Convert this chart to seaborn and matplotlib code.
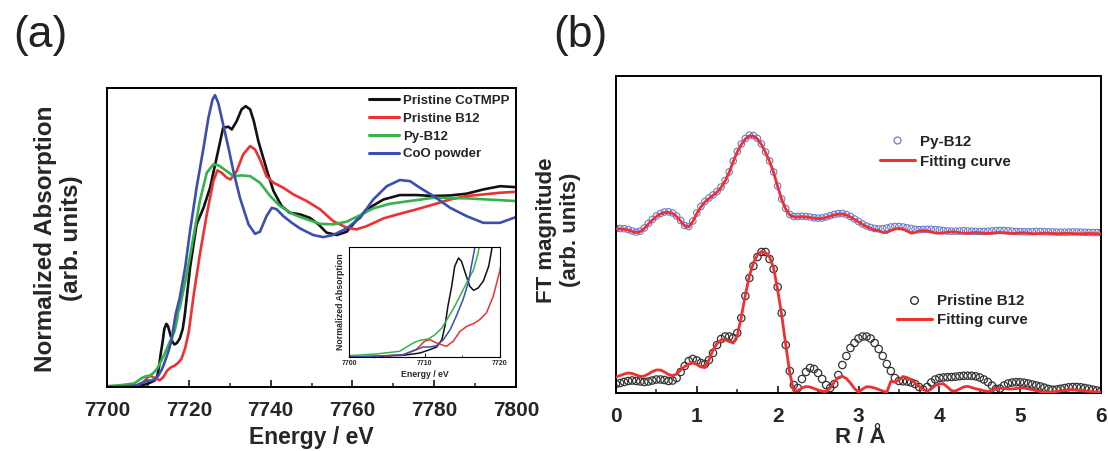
import numpy as np
import pandas as pd
import matplotlib
matplotlib.use("Agg")
import matplotlib.pyplot as plt
from matplotlib.lines import Line2D
from matplotlib.ticker import MultipleLocator
import seaborn as sns

# ---------------- Panel (a): XANES data ----------------
e_cotmpp = [7700, 7703.6, 7707.2, 7709.4, 7710.7, 7711.6, 7712.3, 7712.7, 7713.1, 7713.6,
            7714.0, 7714.5, 7714.9, 7715.4, 7716.0, 7716.5, 7717.1, 7717.8, 7718.5, 7718.9,
            7719.1, 7720.3, 7721.9, 7723.6, 7725.2, 7726.8, 7728.4, 7729.7, 7730.5, 7731.7,
            7732.9, 7733.9, 7735.0, 7735.9, 7737.0, 7738.2, 7739.4, 7740.7, 7742.7, 7744.7,
            7747.2, 7749.6, 7751.7, 7753.7, 7756.2, 7758.6, 7761.0, 7763.5, 7767.6, 7771.6,
            7775.7, 7779.8, 7783.9, 7787.9, 7792.0, 7796.1, 7800]
mu_cotmpp = [0, 0.0022, 0.0055, 0.0132, 0.0243, 0.0331, 0.0574, 0.1015, 0.1677, 0.2338,
             0.300, 0.3276, 0.3165, 0.2779, 0.2338, 0.2206, 0.2283, 0.2515, 0.300, 0.3552,
             0.388, 0.618, 0.843, 0.929, 1.033, 1.188, 1.344, 1.349, 1.335, 1.378,
             1.439, 1.456, 1.439, 1.378, 1.275, 1.188, 1.102, 1.016, 0.938, 0.903,
             0.895, 0.877, 0.843, 0.800, 0.788, 0.805, 0.864, 0.921, 0.972, 0.995,
             0.995, 0.990, 0.993, 1.002, 1.024, 1.041, 1.036]

e_b12 = [7700, 7703.6, 7707.2, 7708.9, 7710.0, 7710.7, 7711.6, 7712.9, 7713.8, 7714.7,
         7715.6, 7716.5, 7717.3, 7718.2, 7719.1, 7720.0, 7721.1, 7722.7, 7724.4, 7726.0,
         7727.0, 7728.0, 7729.3, 7730.2, 7731.7, 7733.3, 7735.0, 7736.2, 7737.4, 7739.0,
         7740.7, 7743.1, 7745.6, 7748.8, 7752.1, 7755.3, 7758.6, 7761.0, 7763.5, 7767.6,
         7771.6, 7775.7, 7779.8, 7783.9, 7787.9, 7792.0, 7796.1, 7800]
mu_b12 = [0, 0.0022, 0.0077, 0.0243, 0.0519, 0.0574, 0.0463, 0.0353, 0.0519, 0.0849,
          0.1015, 0.1103, 0.1235, 0.1456, 0.2007, 0.287, 0.463, 0.687, 0.895, 1.067,
          1.123, 1.111, 1.085, 1.076, 1.119, 1.206, 1.249, 1.231, 1.180, 1.093,
          1.059, 1.033, 0.998, 0.964, 0.921, 0.860, 0.826, 0.817, 0.834, 0.874,
          0.898, 0.921, 0.946, 0.972, 0.990, 0.998, 1.007, 1.012]

e_pyb12 = [7700, 7703.6, 7706.7, 7708.5, 7709.4, 7710.5, 7711.4, 7712.3, 7713.1, 7714.0,
           7714.9, 7715.8, 7716.5, 7717.1, 7717.4, 7717.8, 7719.5, 7721.1, 7722.7, 7724.4,
           7726.0, 7727.2, 7729.3, 7730.9, 7732.9, 7735.0, 7737.4, 7739.9, 7742.3, 7745.6,
           7748.8, 7752.1, 7755.3, 7758.6, 7761.9, 7765.1, 7769.2, 7775.7, 7779.8, 7787.9,
           7800]
mu_pyb12 = [0.0044, 0.0099, 0.0188, 0.0463, 0.0552, 0.0596, 0.0739, 0.096, 0.129, 0.1677,
            0.2118, 0.2559, 0.289, 0.344, 0.388, 0.411, 0.584, 0.774, 0.964, 1.111,
            1.154, 1.150, 1.119, 1.093, 1.097, 1.093, 1.059, 0.990, 0.938, 0.895,
            0.869, 0.846, 0.843, 0.857, 0.891, 0.926, 0.950, 0.969, 0.981, 0.978,
            0.964]

e_coo = [7700, 7703.6, 7707.2, 7708.9, 7709.8, 7710.7, 7711.6, 7712.5, 7713.4, 7714.2,
         7715.1, 7715.8, 7716.2, 7716.7, 7716.9, 7717.8, 7719.1, 7720.3, 7721.9, 7723.6,
         7724.8, 7725.8, 7726.4, 7727.2, 7728.4, 7729.7, 7730.9, 7732.5, 7734.6, 7736.2,
         7737.4, 7739.0, 7740.3, 7741.5, 7743.1, 7745.2, 7747.2, 7750.4, 7752.9, 7755.3,
         7758.6, 7761.9, 7765.1, 7768.4, 7771.6, 7774.1, 7776.5, 7779.8, 7783.9, 7787.9,
         7792.0, 7796.1, 7800]
mu_coo = [0, 0.0022, 0.0077, 0.0243, 0.0331, 0.0331, 0.0375, 0.0574, 0.0904, 0.1346,
          0.1897, 0.2449, 0.300, 0.3662, 0.388, 0.463, 0.618, 0.808, 1.033, 1.240,
          1.396, 1.490, 1.513, 1.473, 1.361, 1.240, 1.119, 0.981, 0.843, 0.794,
          0.805, 0.886, 0.929, 0.921, 0.886, 0.851, 0.822, 0.788, 0.777, 0.788,
          0.822, 0.877, 0.972, 1.041, 1.073, 1.067, 1.033, 0.990, 0.929, 0.886,
          0.851, 0.851, 0.881]

xanes_labels = ["Pristine CoTMPP", "Pristine B12", "Py-B12", "CoO powder"]
xanes_colors = ["#111111", "#ee3030", "#33b34a", "#3a4fb0"]

# ---------------- Panel (b): FT-EXAFS data ----------------
r_grid = np.round(np.arange(0, 6.0001, 0.05), 2)

ft_pyb12 = [164.5, 164.5, 164.3, 163.5, 162.0, 161.0, 161.8, 165.0, 169.5, 173.5,
            177.0, 179.5, 181.0, 181.2, 180.0, 177.0, 172.5, 167.5, 166.5, 172.0,
            180.0, 186.5, 191.5, 195.0, 198.0, 201.5, 206.0, 212.5, 221.0, 232.0,
            241.5, 249.0, 254.5, 257.8, 257.5, 254.5, 249.0, 241.0, 232.0, 221.0,
            207.0, 194.0, 184.5, 178.5, 176.5, 176.5, 176.8, 176.5, 176.0, 175.2,
            174.8, 175.0, 176.0, 177.3, 178.5, 179.3, 179.5, 178.5, 176.5, 174.0,
            171.5, 169.0, 167.0, 165.5, 164.5, 164.0, 164.3, 165.0, 166.0, 166.5,
            166.5, 166.0, 165.2, 164.5, 163.7, 163.3, 163.5, 163.7, 163.7, 163.3,
            163.0, 162.5, 162.0, 161.8, 161.8, 162.0, 162.2, 162.0, 161.7, 161.5,
            161.5, 161.5, 161.7, 162.0, 162.3, 162.5, 162.5, 162.2, 161.8, 161.5,
            161.3, 161.2, 161.2, 161.3, 161.5, 161.5, 161.3, 161.1, 161.0, 160.9,
            160.8, 160.8, 160.9, 161.0, 161.0, 160.9, 160.7, 160.5, 160.4, 160.4,
            160.5]
fit_pyb12 = [164.0, 164.0, 163.8, 163.0, 161.5, 160.5, 161.3, 164.5, 169.0, 173.0,
             176.5, 179.0, 180.5, 180.7, 179.5, 176.5, 172.0, 167.0, 166.0, 171.5,
             179.5, 186.0, 191.0, 194.5, 197.5, 201.0, 205.5, 212.0, 220.5, 231.5,
             241.0, 248.5, 254.0, 257.3, 257.0, 254.0, 248.5, 240.5, 231.5, 220.5,
             206.5, 193.5, 184.0, 178.0, 176.0, 176.0, 176.3, 176.0, 175.5, 174.7,
             174.3, 174.5, 175.5, 176.8, 178.0, 178.8, 179.0, 178.0, 176.0, 173.5,
             171.0, 168.5, 166.3, 164.5, 163.0, 162.5, 160.5, 160.5, 162.5, 164.0,
             164.5, 164.0, 162.0, 159.8, 160.5, 162.0, 162.5, 162.0, 161.0, 160.0,
             159.7, 160.0, 160.8, 161.2, 161.0, 160.3, 159.8, 159.8, 160.2, 160.5,
             160.3, 159.8, 159.5, 159.8, 160.3, 160.5, 160.2, 159.8, 159.5, 159.7,
             160.1, 160.2, 159.8, 159.3, 159.2, 159.6, 159.9, 159.8, 159.5, 159.3,
             159.4, 159.6, 159.6, 159.4, 159.2, 159.2, 159.4, 159.5, 159.4, 159.2,
             159.2]
ft_b12 = [9, 10, 11, 12, 12.5, 12, 11.5, 11, 11.5, 12.5,
          13.5, 13.5, 13, 12, 12.5, 15, 21, 27, 32, 34,
          32.5, 30, 29, 33, 40, 48, 54, 56.5, 56.5, 55,
          60, 75, 97, 115, 127, 136, 141, 141, 134, 124,
          106, 80, 48, 22, 8, 5, 14, 21, 25, 24,
          20, 14, 8, 5, 9, 18, 28, 37, 45, 50,
          54.5, 56.5, 56.5, 54.5, 50, 44, 37, 29, 22, 15,
          12, 11.7, 11.5, 10.5, 9, 6, 3.5, 6, 10.5, 13.5,
          15, 15.5, 15.8, 16, 16.3, 16.8, 17.2, 17.3, 17.2, 16.7,
          15.5, 13.5, 11, 7.5, 4, 4.5, 7.5, 9.5, 10.5, 10.8,
          10.8, 10.3, 9.5, 8.5, 7.5, 6.5, 5.3, 4, 3.3, 3.5,
          4.2, 5, 5.7, 6, 6, 5.7, 5, 4.2, 3.3, 2.5,
          1.7]
fit_b12 = [16, 17.5, 19, 20, 19.5, 18, 16.5, 17, 19, 21.5,
           23, 23, 21, 18.5, 17.3, 19, 23, 26.5, 29, 30,
           28.5, 26, 25.5, 33, 43, 49.5, 53, 53.2, 51.5, 50,
           57, 76, 98, 117, 130, 138, 141.5, 140.5, 136, 125,
           103, 78, 48, 20, 2, 2.5, 5, 6.5, 6, 4.5,
           3, 1.8, 1.5, 5, 11, 15.5, 16.7, 14.5, 10, 4.5,
           0.8, 4, 6.3, 6, 5, 3.5, 2, 0.8, 11.7, 10.8,
           13, 16.5, 15.5, 13.3, 10, 6.7, 3.5, 1.8, 4, 7.5,
           9, 9.3, 6, 2.3, 2, 4, 6, 6.7, 5.5, 4.2,
           3.5, 2.2, 1.7, 2.5, 4, 5, 4.7, 4, 4, 4.5,
           5, 5, 4.2, 3.3, 2.3, 1.5, 0.9, 0.7, 1, 1.5,
           2, 2.7, 3.2, 3.3, 2.8, 2.2, 1.8, 1.7, 1.3, 1,
           0.7]

# ---------------- Style ----------------
sns.set_theme(style="white")
plt.rcParams["font.family"] = ["Liberation Sans", "DejaVu Sans"]
plt.rcParams["axes.linewidth"] = 1.4
plt.rcParams["axes.edgecolor"] = "black"

W, H = 1108, 451
fig = plt.figure(figsize=(W / 100, H / 100), dpi=100)


def box(l, t, r, b):
    return [l / W, 1 - b / H, (r - l) / W, (b - t) / H]


ax_a = fig.add_axes(box(107, 88, 516, 387))
ax_b = fig.add_axes(box(616, 76, 1101, 393))
ax_in = fig.add_axes(box(349, 247, 500, 357))

xanes = [(e_cotmpp, mu_cotmpp), (e_b12, mu_b12), (e_pyb12, mu_pyb12), (e_coo, mu_coo)]
for (ex, mu), lab, col in zip(xanes, xanes_labels, xanes_colors):
    df = pd.DataFrame({"E": ex, "mu": mu})
    sns.lineplot(data=df, x="E", y="mu", ax=ax_a, color=col, lw=1.9,
                 estimator=None, sort=False, label=lab)
    sns.lineplot(data=df, x="E", y="mu", ax=ax_in, color=col, lw=1.1,
                 estimator=None, sort=False, legend=False)

ax_a.set_xlim(7700, 7800)
ax_a.set_ylim(0, 1.55)
ax_a.set_yticks([])
ax_a.xaxis.set_major_locator(MultipleLocator(20))
ax_a.xaxis.set_minor_locator(MultipleLocator(10))
ax_a.tick_params(axis="x", which="major", direction="in", length=5, width=1.3,
                 labelsize=15, pad=10, bottom=True)
ax_a.tick_params(axis="x", which="minor", direction="in", length=3, width=1.1, bottom=True)
for lbl in ax_a.get_xticklabels():
    lbl.set_fontweight("bold")
ax_a.set_xlabel("Energy / eV", fontsize=16.5, fontweight="bold")
ax_a.xaxis.set_label_coords(0.5, -0.13)
ax_a.set_ylabel("Normalized Absorption\n(arb. units)", fontsize=17.5,
                fontweight="bold", multialignment="center")
ax_a.yaxis.set_label_coords(-0.058, 0.497)
leg_a = ax_a.legend(loc="upper right", bbox_to_anchor=(0.985, 0.977), frameon=False,
                    prop={"weight": "bold", "size": 9.5}, handlelength=2.3,
                    handletextpad=0.3, labelspacing=0.42, borderpad=0, borderaxespad=0)
for h in leg_a.get_lines():
    h.set_linewidth(2.2)

ax_in.set_xlim(7700, 7720)
ax_in.set_ylim(0, 0.364)
ax_in.set_yticks([])
ax_in.set_xticks([7700, 7710, 7720])
ax_in.xaxis.set_minor_locator(MultipleLocator(5))
ax_in.tick_params(axis="x", which="major", direction="in", length=3, width=0.8,
                  labelsize=5, pad=2.5, bottom=True)
ax_in.tick_params(axis="x", which="minor", direction="in", length=1.5, width=0.6, bottom=True)
for lbl in ax_in.get_xticklabels():
    lbl.set_fontweight("bold")
for s in ax_in.spines.values():
    s.set_linewidth(0.8)
ax_in.set_xlabel("Energy / eV", fontsize=6.3, fontweight="bold", labelpad=1.5)
ax_in.set_ylabel("Normalized Absorption", fontsize=6.3, fontweight="bold", labelpad=3)

# ---------------- Panel (b) ----------------
ft_df = pd.DataFrame({"R": r_grid, "py": ft_pyb12, "py_fit": fit_pyb12,
                      "b12": ft_b12, "b12_fit": fit_b12})
sns.scatterplot(data=ft_df, x="R", y="b12", ax=ax_b, marker="o", s=28,
                facecolor="none", edgecolor="#333333", linewidth=0.9, legend=False, zorder=2)
sns.lineplot(data=ft_df, x="R", y="b12_fit", ax=ax_b, color="#ee3030", lw=2.0,
             estimator=None, sort=False, legend=False, zorder=3)
sns.scatterplot(data=ft_df, x="R", y="py", ax=ax_b, marker="o", s=22,
                facecolor="none", edgecolor="#6a7ccc", linewidth=0.8, legend=False, zorder=2)
sns.lineplot(data=ft_df, x="R", y="py_fit", ax=ax_b, color="#ee3030", lw=2.0,
             estimator=None, sort=False, legend=False, zorder=3)

ax_b.set_xlim(0, 6)
ax_b.set_ylim(0, 317)
ax_b.set_yticks([])
ax_b.xaxis.set_major_locator(MultipleLocator(1))
ax_b.xaxis.set_minor_locator(MultipleLocator(0.5))
ax_b.tick_params(axis="x", which="major", direction="in", length=5, width=1.3,
                 labelsize=15, pad=10, bottom=True)
ax_b.tick_params(axis="x", which="minor", direction="in", length=3, width=1.1, bottom=True)
for lbl in ax_b.get_xticklabels():
    lbl.set_fontweight("bold")
ax_b.set_xlabel("R / Å", fontsize=16, fontweight="bold")
ax_b.xaxis.set_label_coords(0.503, -0.108)
ax_b.set_ylabel("FT magnitude\n(arb. units)", fontsize=16, fontweight="bold",
                multialignment="center")
ax_b.yaxis.set_label_coords(-0.072, 0.514)

lp = {"weight": "bold", "size": 10.9}
h1 = [Line2D([], [], ls="none", marker="o", mfc="none", mec="#6a7ccc", ms=5, mew=0.9),
      Line2D([], [], color="#ee3030", lw=2.2)]
leg1 = ax_b.legend(h1, ["Py-B12", "Fitting curve"], loc="upper left",
                   bbox_to_anchor=(0.544, 0.815), frameon=False, prop=lp, handlelength=2.3,
                   handletextpad=0.35, labelspacing=0.4, borderpad=0, borderaxespad=0)
ax_b.add_artist(leg1)
h2 = [Line2D([], [], ls="none", marker="o", mfc="none", mec="#333333", ms=5.5, mew=1.0),
      Line2D([], [], color="#ee3030", lw=2.2)]
ax_b.legend(h2, ["Pristine B12", "Fitting curve"], loc="upper left",
            bbox_to_anchor=(0.579, 0.312), frameon=False, prop=lp, handlelength=2.3,
            handletextpad=0.35, labelspacing=0.35, borderpad=0, borderaxespad=0)

for ax in (ax_a, ax_b, ax_in):
    for s in ax.spines.values():
        s.set_visible(True)
        s.set_color("black")

fig.text(40 / W, 1 - 35 / H, "(a)", fontsize=32, ha="center", va="center", color="#222222")
fig.text(580 / W, 1 - 35 / H, "(b)", fontsize=32, ha="center", va="center", color="#222222")

fig.savefig("out.png", dpi=100)
